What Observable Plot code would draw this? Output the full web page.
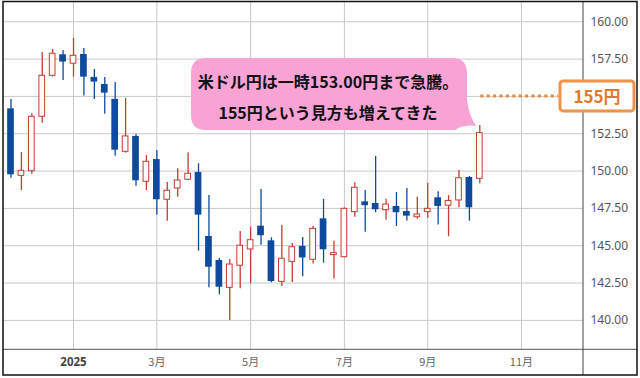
<!DOCTYPE html>
<html><head><meta charset="utf-8">
<script src="https://cdn.jsdelivr.net/npm/d3@7"></script>
<script src="https://cdn.jsdelivr.net/npm/@observablehq/plot@0.6"></script>
<style>
body{margin:0;background:#fff;}
</style></head><body><div id="chart"></div>
<script>
// Weekly candles (week start, Monday)
const weeks = ["2024-11-25","2024-12-02","2024-12-09","2024-12-16","2024-12-23","2024-12-30",
"2025-01-06","2025-01-13","2025-01-20","2025-01-27","2025-02-03","2025-02-10","2025-02-17","2025-02-24",
"2025-03-03","2025-03-10","2025-03-17","2025-03-24","2025-03-31","2025-04-07","2025-04-14","2025-04-21",
"2025-04-28","2025-05-05","2025-05-12","2025-05-19","2025-05-26","2025-06-02","2025-06-09","2025-06-16",
"2025-06-23","2025-06-30","2025-07-07","2025-07-14","2025-07-21","2025-07-28","2025-08-04","2025-08-11",
"2025-08-18","2025-08-25","2025-09-01","2025-09-08","2025-09-15","2025-09-22","2025-09-29","2025-10-06"];
const opens  = [154.17,149.68,149.99,153.64,156.38,157.79,157.19,157.81,156.27,155.80,154.80,151.29,152.32,149.28,
150.77,148.08,148.83,149.42,149.91,145.62,144.01,142.18,143.66,144.75,146.31,145.33,142.58,143.92,144.96,144.06,
146.80,144.37,144.23,147.25,147.94,147.83,147.38,147.63,147.29,146.91,147.25,148.21,147.68,148.03,149.57,149.48];
const highs  = [154.80,151.25,153.84,157.94,158.14,158.08,158.88,158.21,156.80,156.27,155.93,154.86,152.45,151.04,
151.37,149.24,150.15,151.23,150.49,148.37,144.15,144.08,145.95,146.24,148.77,145.53,146.35,145.15,145.55,146.29,
148.10,145.30,147.54,149.22,148.70,150.98,148.12,148.57,148.83,148.25,149.19,148.62,148.36,150.04,149.64,153.05];
const lows   = [149.52,148.70,149.79,153.20,156.30,156.07,156.29,155.02,154.80,153.81,151.00,151.20,148.99,148.70,
147.06,146.64,148.25,149.35,144.64,142.18,141.71,140.00,142.12,142.45,145.04,142.52,142.27,142.54,142.92,143.77,
143.83,142.78,144.20,146.91,145.91,147.21,146.71,146.29,146.65,146.78,146.84,146.38,145.60,147.54,146.65,149.15];
const closes = [149.75,150.02,153.64,156.38,157.86,157.30,157.72,156.29,155.96,155.22,151.40,152.32,149.35,150.62,
148.08,148.68,149.37,149.82,147.05,143.56,142.22,143.74,145.00,145.37,145.67,142.60,144.13,144.90,144.18,146.13,
144.73,144.50,147.47,148.88,147.68,147.41,147.76,147.21,146.98,147.09,147.47,147.63,148.00,149.52,147.54,152.54];

const yTicks = [140, 142.5, 145, 147.5, 150, 152.5, 155, 157.5, 160];
const xTickDates = ["2025-01-06","2025-03-03","2025-05-05","2025-07-07","2025-09-01","2025-11-03"];
const xTickLabels = ["2025","3月","5月","7月","9月","11月"];
const annotationLines = ["米ドル円は一時153.00円まで急騰。", "155円という見方も増えてきた"];
const targetLevel = 155;
const targetLabel = "155円";

const RED = "#c63b2f", BLUE = "#0f4a9c", GRID = "#c8c8c8";
const DAY = 864e5;

const data = weeks.map((w, i) => ({date: new Date(w), open: opens[i], high: highs[i], low: lows[i], close: closes[i]}));
const up = data.filter(d => d.close >= d.open);
const down = data.filter(d => d.close < d.open);
const half = 2.25 * DAY;

const tickDates = xTickDates.map(s => new Date(s));
const labelMap = new Map(tickDates.map((d, i) => [+d, xTickLabels[i]]));
const yearTicks = tickDates.filter((d, i) => i === 0);
const monthTicks = tickDates.filter((d, i) => i > 0);
// the 155.00 label is hidden behind the target label box
const yLabelTicks = yTicks.filter(v => v !== targetLevel);

const t0 = +data[0].date;
const xDomain = [new Date(t0 - 5.04 * DAY), new Date(t0 + 384.67 * DAY)];

const chart = Plot.plot({
  width: 640, height: 378,
  marginTop: 2, marginRight: 57, marginBottom: 28.7, marginLeft: 3,
  style: {background: "#fff", fontFamily: "'Noto Sans', sans-serif", overflow: "visible"},
  x: {type: "utc", domain: xDomain},
  y: {domain: [138.03, 161.29]},
  marks: [
    Plot.gridY(yTicks, {stroke: GRID, strokeOpacity: 1}),
    Plot.gridX(tickDates, {stroke: GRID, strokeOpacity: 1}),
    Plot.axisY(yLabelTicks, {anchor: "right", tickSize: 0, tickPadding: 7, tickFormat: d3.format(".2f"),
      fontSize: 12, fill: "#555"}),
    Plot.axisX(yearTicks, {tickSize: 0, tickPadding: 8, tickFormat: d => labelMap.get(+d),
      fontSize: 11.5, fontWeight: "bold", fill: "#444", fontFamily: "'Noto Sans', sans-serif"}),
    Plot.axisX(monthTicks, {tickSize: 0, tickPadding: 8, tickFormat: d => labelMap.get(+d),
      fontSize: 11, fill: "#666", fontFamily: "'Noto Sans CJK JP', sans-serif"}),
    Plot.ruleX(up, {x: "date", y1: "low", y2: "high", stroke: RED, strokeWidth: 1.3}),
    Plot.ruleX(down, {x: "date", y1: "low", y2: "high", stroke: BLUE, strokeWidth: 1.3}),
    Plot.rect(up, {x1: d => new Date(+d.date - half), x2: d => new Date(+d.date + half),
      y1: "open", y2: "close", fill: "#fff", stroke: RED, strokeWidth: 1, insetLeft: 0.5, insetRight: 0.5}),
    Plot.rect(down, {x1: d => new Date(+d.date - half), x2: d => new Date(+d.date + half),
      y1: "open", y2: "close", fill: BLUE})
  ]
});
document.getElementById("chart").appendChild(chart);

const X = chart.scale("x"), Y = chart.scale("y");
const svg = d3.select(chart);

// frame decorations
const plotBottom = Y.apply(138.03);
const plotRight = 640 - 57;
svg.append("line").attr("x1", 3).attr("x2", 637).attr("y1", plotBottom).attr("y2", plotBottom)
  .attr("stroke", "#555").attr("stroke-width", 1);
svg.append("line").attr("x1", plotRight).attr("x2", plotRight).attr("y1", 2).attr("y2", 375)
  .attr("stroke", "#444").attr("stroke-width", 1);
svg.append("rect").attr("x", 3).attr("y", 1.5).attr("width", 634).attr("height", 373.5)
  .attr("fill", "none").attr("stroke", "#111").attr("stroke-width", 1.5);

// target level dotted line and label
const last = data[data.length - 1];
const yT = Y.apply(targetLevel);
const xLast = X.apply(last.date);
svg.append("line").attr("x1", xLast + 1).attr("x2", 558).attr("y1", yT).attr("y2", yT)
  .attr("stroke", "#e8883f").attr("stroke-width", 3).attr("stroke-dasharray", "3 3.4");
svg.append("rect").attr("x", 560).attr("y", yT - 15).attr("width", 74).attr("height", 30).attr("rx", 3)
  .attr("fill", "#fff").attr("stroke", "#f0904a").attr("stroke-width", 3);
svg.append("text").attr("x", 597).attr("y", yT).attr("text-anchor", "middle").attr("dominant-baseline", "central")
  .attr("font-family", "'Noto Sans CJK JP', sans-serif").attr("font-weight", "bold").attr("font-size", 17)
  .attr("fill", "#e27a2e").text(targetLabel);

// callout pointing at the last candle's high
const tipX = xLast - 3, tipY = Y.apply(last.high) + 1;
const bx0 = 191, bx1 = 467, by0 = 58, by1 = 130, r = 15;
svg.append("path")
  .attr("d", `M${bx0 + r},${by0} H${bx1 - r} Q${bx1},${by0} ${bx1},${by0 + r} V${by1 - 30} Q${bx1 + 2},${by1 - 14} ${tipX},${tipY} Q${bx1 - 2},${by1 - 6} ${bx1 - 12},${by1} H${bx0 + r} Q${bx0},${by1} ${bx0},${by1 - r} V${by0 + r} Q${bx0},${by0} ${bx0 + r},${by0} Z`)
  .attr("fill", "#f9a3d5");
annotationLines.forEach((t, i) => {
  svg.append("text").attr("x", 328).attr("y", i === 0 ? 81 : 112).attr("text-anchor", "middle")
    .attr("dominant-baseline", "central")
    .attr("font-family", "'Noto Sans CJK JP', sans-serif").attr("font-weight", "bold").attr("font-size", 16)
    .attr("fill", "#111").text(t);
});
</script></body></html>
